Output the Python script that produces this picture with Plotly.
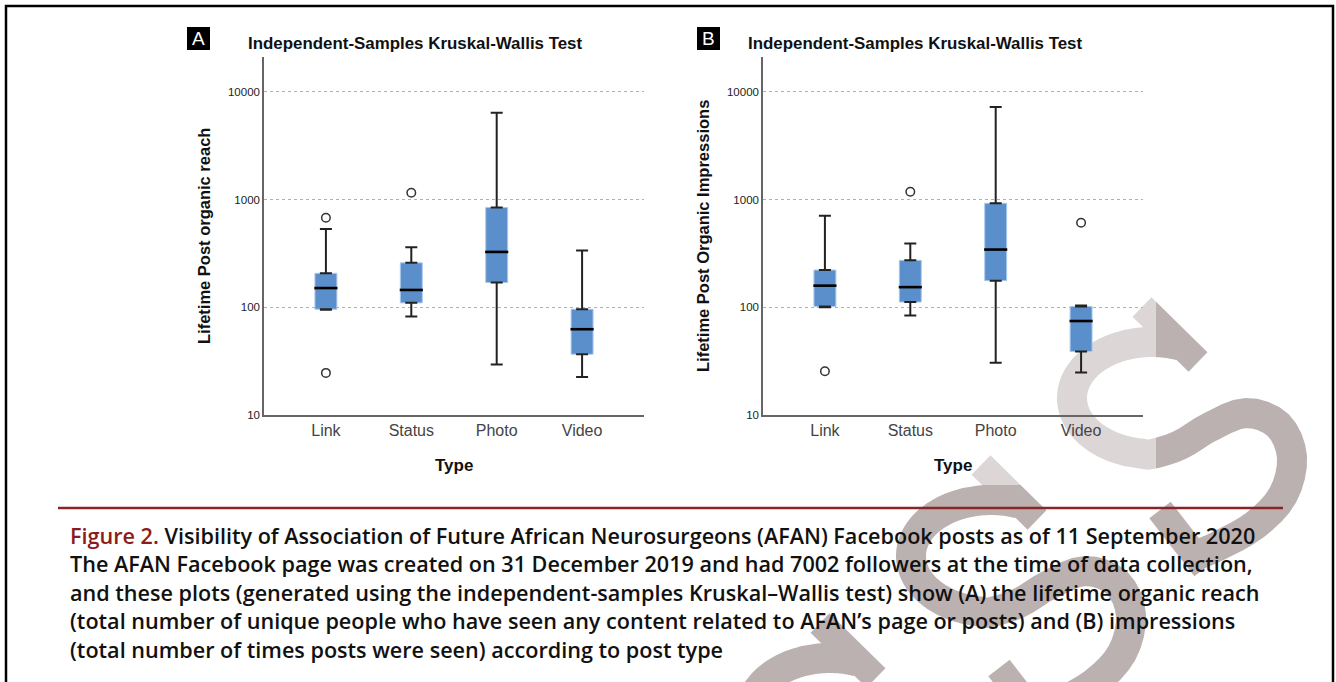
import numpy as np
import plotly.graph_objects as go

# ---------------- data ----------------
categories = ["Link", "Status", "Photo", "Video"]

# Panel A: Lifetime Post organic reach
reach_q1 = [96, 110, 170, 36.7]
reach_median = [151, 145, 327, 62.6]
reach_q3 = [207, 259, 844, 96]
reach_lowerfence = [95, 82, 29.5, 22.5]
reach_upperfence = [533, 361, 6430, 337]
reach_outlier_x = ["Link", "Link", "Status"]
reach_outlier_y = [678, 24.6, 1159]

# Panel B: Lifetime Post Organic Impressions
imp_q1 = [102, 112, 177, 38.9]
imp_median = [159, 154, 344, 74.6]
imp_q3 = [222, 273, 925, 102]
imp_lowerfence = [100, 84, 30.6, 24.8]
imp_upperfence = [708, 391, 7244, 104]
imp_outlier_x = ["Link", "Status", "Video"]
imp_outlier_y = [25.5, 1183, 610]

y_tickvals = [10, 100, 1000, 10000]
y_ticktext = ["10", "100", "1000", "10000"]

W, H = 1336, 682
FONT = "Arial, Liberation Sans, sans-serif"
BOX_FILL = "#5b8fcb"
BOX_EDGE = "#a9c8ec"
BOX_W = 0.257
WHISKER = "#222222"


def px(x):
    return x / W


def py(y):
    return 1 - y / H


fig = go.Figure()


def add_panel(xa, ya, q1, med, q3, lo, hi, ox, oy):
    # box body (Q1..Q3)
    fig.add_trace(go.Bar(
        x=categories, base=q1, y=[b - a for a, b in zip(q1, q3)], width=BOX_W,
        marker=dict(color=BOX_FILL, line=dict(color=BOX_EDGE, width=1)),
        xaxis=xa, yaxis=ya, showlegend=False, hoverinfo="skip"))
    # upper whiskers
    fig.add_trace(go.Scatter(
        x=categories, y=q3, mode="markers",
        marker=dict(size=1, color="rgba(0,0,0,0)"),
        error_y=dict(type="data", symmetric=False,
                     array=[h - b for h, b in zip(hi, q3)], arrayminus=[0] * 4,
                     color=WHISKER, thickness=2, width=6),
        xaxis=xa, yaxis=ya, showlegend=False, hoverinfo="skip"))
    # lower whiskers
    fig.add_trace(go.Scatter(
        x=categories, y=q1, mode="markers",
        marker=dict(size=1, color="rgba(0,0,0,0)"),
        error_y=dict(type="data", symmetric=False,
                     array=[0] * 4, arrayminus=[a - l for a, l in zip(q1, lo)],
                     color=WHISKER, thickness=2, width=6),
        xaxis=xa, yaxis=ya, showlegend=False, hoverinfo="skip"))
    # median
    fig.add_trace(go.Scatter(
        x=categories, y=med, mode="markers",
        marker=dict(symbol="line-ew", size=16.5, line=dict(color="black", width=2.6)),
        xaxis=xa, yaxis=ya, showlegend=False, hoverinfo="skip"))
    # outliers
    fig.add_trace(go.Scatter(
        x=ox, y=oy, mode="markers",
        marker=dict(symbol="circle-open", size=8.5, color="#333333", line=dict(width=1.5)),
        xaxis=xa, yaxis=ya, showlegend=False, hoverinfo="skip"))


add_panel("x", "y", reach_q1, reach_median, reach_q3, reach_lowerfence, reach_upperfence,
          reach_outlier_x, reach_outlier_y)
add_panel("x2", "y2", imp_q1, imp_median, imp_q3, imp_lowerfence, imp_upperfence,
          imp_outlier_x, imp_outlier_y)

y_dom = [py(415), py(57)]
xax = dict(type="category", categoryorder="array", categoryarray=categories,
           range=[-0.725, 3.725], showline=True, linecolor="#666666", linewidth=1.5,
           ticks="", showgrid=False, zeroline=False, fixedrange=True,
           tickfont=dict(family=FONT, size=16, color="#444444"), automargin=False)
yax = dict(type="log", range=[1, 4.325], tickvals=y_tickvals, ticktext=y_ticktext,
           showline=True, linecolor="#666666", linewidth=1.5, ticks="",
           showgrid=True, gridcolor="#b0b0b0", gridwidth=1, griddash="3px,3px",
           zeroline=False, domain=y_dom, automargin=False,
           tickfont=dict(family=FONT, size=11.5, color="#222222"))

fig.update_layout(
    width=W, height=H, margin=dict(l=0, r=0, t=0, b=0),
    paper_bgcolor="white", plot_bgcolor="rgba(0,0,0,0)",
    xaxis=dict(xax, domain=[px(264), px(644)], anchor="y"),
    yaxis=dict(yax, anchor="x"),
    xaxis2=dict(xax, domain=[px(763), px(1143)], anchor="y2"),
    yaxis2=dict(yax, anchor="x2"),
    barmode="overlay", showlegend=False,
)

# ---------------- watermark (decoration) ----------------
def catmull(pts, n=8):
    pts = np.asarray(pts, float)
    out = []
    P = np.vstack([pts[0], pts, pts[-1]])
    for i in range(1, len(P) - 2):
        p0, p1, p2, p3 = P[i - 1], P[i], P[i + 1], P[i + 2]
        for t in np.linspace(0, 1, n, endpoint=False):
            t2, t3 = t * t, t * t * t
            out.append(0.5 * ((2 * p1) + (-p0 + p2) * t + (2 * p0 - 5 * p1 + 4 * p2 - p3) * t2
                              + (-p0 + 3 * p1 - 3 * p2 + p3) * t3))
    out.append(P[-2])
    return np.array(out)


def path_str(pts):
    return "M " + " L ".join(f"{px(x):.5f},{py(y):.5f}" for x, y in pts)


ts = np.radians(np.linspace(-70, -270, 26))
bowl = [(1152 + 80 * np.cos(t), 398 + 56 * np.sin(t)) for t in ts]
lower = [(1180, 445), (1210, 427), (1246, 413), (1278, 425), (1292, 457),
         (1283, 495), (1255, 525), (1218, 546), (1192, 557)]
s_center = catmull(bowl + lower, n=4)
cap_top = np.array([(1142, 307), (1198, 362)])
cap_bot = np.array([(1160, 510), (1205, 568)])

WM_DARK = "#bcb1b1"
for dx, dy in [(0, 0), (-161, 158), (-322, 316)]:
    off = np.array([dx, dy])
    for pts, wdt in [(s_center + off, 30), (cap_top + off, 27), (cap_bot + off, 27)]:
        fig.add_shape(type="path", path=path_str(pts), xref="paper", yref="paper",
                      line=dict(color=WM_DARK, width=wdt), layer="below")

# chart-image region lightens the watermark
fig.add_shape(type="rect", xref="paper", yref="paper",
              x0=px(680), x1=px(1156), y0=py(485), y1=py(12),
              fillcolor="rgba(255,255,255,0.48)", line=dict(width=0), layer="below")

# frame
fig.add_shape(type="rect", xref="paper", yref="paper",
              x0=px(6), x1=px(1333), y0=py(720), y1=py(6),
              line=dict(color="black", width=2.5), layer="above")

# caption rule
fig.add_shape(type="line", xref="paper", yref="paper",
              x0=px(58), x1=px(1283), y0=py(508), y1=py(508),
              line=dict(color="#8b2424", width=2.5), layer="above")

# panel letters
for x0, letter in [(187, "A"), (697, "B")]:
    fig.add_shape(type="rect", xref="paper", yref="paper",
                  x0=px(x0), x1=px(x0 + 23), y0=py(50), y1=py(27),
                  fillcolor="black", line=dict(width=0), layer="above")
    fig.add_annotation(x=px(x0 + 11.5), y=py(39), xref="paper", yref="paper",
                       text=letter, showarrow=False, xanchor="center", yanchor="middle",
                       font=dict(family=FONT, size=19, color="white"))

# titles and axis titles
for cx, cxt, ylab, ycx in [(415, 454, "Lifetime Post organic reach", 204),
                           (915, 953, "Lifetime Post Organic Impressions", 703)]:
    fig.add_annotation(x=px(cx), y=py(44), xref="paper", yref="paper",
                       text="<b>Independent-Samples Kruskal-Wallis Test</b>",
                       showarrow=False, xanchor="center", yanchor="middle",
                       font=dict(family=FONT, size=16.9, color="#111111"))
    fig.add_annotation(x=px(cxt), y=py(466), xref="paper", yref="paper",
                       text="<b>Type</b>", showarrow=False, xanchor="center", yanchor="middle",
                       font=dict(family=FONT, size=17, color="#111111"))
    fig.add_annotation(x=px(ycx), y=py(236), xref="paper", yref="paper",
                       text=f"<b>{ylab}</b>", textangle=-90, showarrow=False,
                       xanchor="center", yanchor="middle",
                       font=dict(family=FONT, size=16.5, color="#111111"))

caption_lines = [
    "<span style='color:#8b1c1c'>Figure 2.</span> Visibility of Association of Future African Neurosurgeons (AFAN) Facebook posts as of 11 September 2020",
    "The AFAN Facebook page was created on 31 December 2019 and had 7002 followers at the time of data collection,",
    "and these plots (generated using the independent-samples Kruskal\u2013Wallis test) show (A) the lifetime organic reach",
    "(total number of unique people who have seen any content related to AFAN\u2019s page or posts) and (B) impressions",
    "(total number of times posts were seen) according to post type",
]
caption_y = [535, 563.5, 592, 620.5, 649]
for line, yy in zip(caption_lines, caption_y):
    fig.add_annotation(x=px(68), y=py(yy), xref="paper", yref="paper",
                       text=line, showarrow=False, xanchor="left", yanchor="middle",
                       font=dict(family="Open Sans, sans-serif", size=21.6, weight=600,
                                 color="#111111"))

fig.write_html("out.html", config={"displayModeBar": False},
               post_script="document.body.style.margin='0';document.body.style.padding='0';"
                           "document.documentElement.style.overflow='hidden';")
